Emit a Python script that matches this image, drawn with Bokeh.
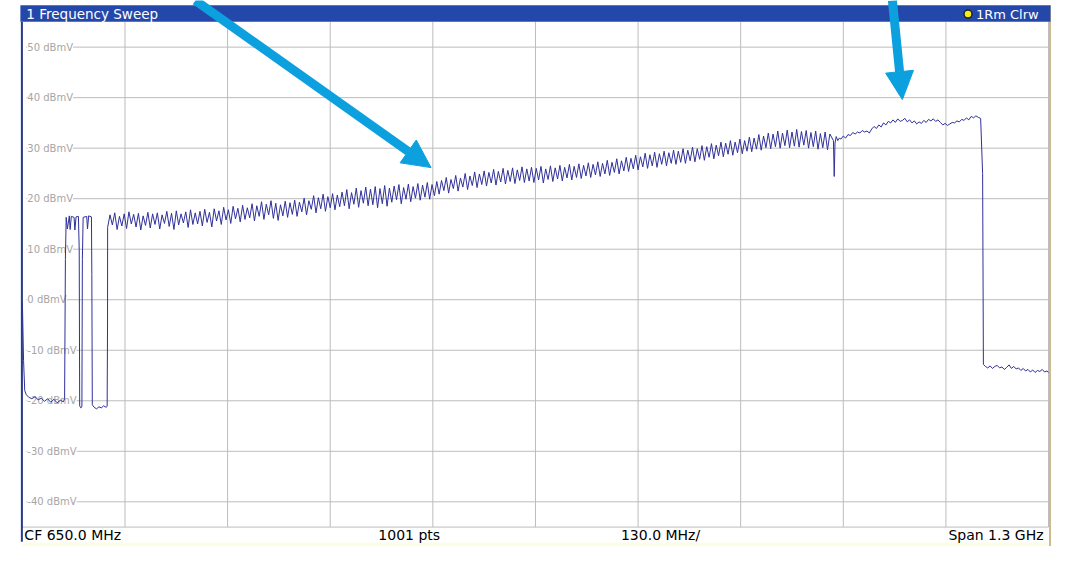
from bokeh.plotting import figure
from bokeh.models import Range1d, Arrow, NormalHead
from bokeh.core.properties import value
from bokeh.embed import file_html
from bokeh.resources import INLINE

# ---------------- data ----------------
x_grid_mhz = [0, 130, 260, 390, 520, 650, 780, 910, 1040, 1170, 1300]
y_ticks = [50, 40, 30, 20, 10, 0, -10, -20, -30, -40]
y_tick_labels = ["50 dBmV", "40 dBmV", "30 dBmV", "20 dBmV", "10 dBmV", "0 dBmV",
                 "-10 dBmV", "-20 dBmV", "-30 dBmV", "-40 dBmV"]

# 0 - 108 MHz: noise floor, low VHF channels, FM gap
low_freq = [0, 1.5, 3, 5, 8, 12, 16, 20, 24, 28, 32, 36, 40, 44, 48, 52, 53.5,
            54.5, 55.5, 57, 59.5, 60.5, 62, 65.5, 66.5, 68, 71, 72, 72.6, 74, 75.4,
            76, 77, 81.5, 82.5, 84, 87.5, 88, 88.6, 91, 94, 97, 100, 103, 106, 107.4, 107.9]
low_level = [-0.5, -12.0, -18.0, -18.8, -19.3, -19.6, -19.2, -19.8, -19.5, -20.1, -19.6, -20.3, -19.7, -20.4, -19.9, -20.2, -19.6,
             8.0, 16.3, 14.0, 16.6, 13.9, 16.5, 16.3, 13.8, 16.4, 16.5, 10.0, -21.0, -21.4, -21.2,
             8.0, 16.3, 16.5, 14.0, 16.6, 16.4, 5.0, -20.8, -21.3, -21.6, -21.2, -21.4, -21.0, -21.3, -21.1, -5.0]

# 108 - 1026 MHz: 6 MHz channels, channel-edge (trough) and channel-centre (peak) levels
qam_first_mhz = 108
qam_step_mhz = 6
qam_peak = [
    16.8, 17.2, 16.5, 17.0, 17.4, 16.9, 17.1, 16.6, 17.3, 17.0,
    17.2, 16.8, 17.5, 17.1, 17.6, 17.0, 17.4, 17.8, 17.2, 17.5,
    17.9, 17.3, 18.0, 17.6, 18.3, 17.8, 18.5, 18.1, 18.7, 18.2,
    19.0, 18.6, 19.4, 18.9, 19.6, 19.1, 18.8, 19.5, 19.2, 19.7,
    19.3, 20.1, 19.6, 20.6, 20.2, 20.9, 20.4, 21.0, 20.7, 21.3,
    21.8, 21.2, 22.1, 21.6, 22.3, 21.9, 22.4, 22.0, 22.6, 22.1,
    22.5, 22.8, 22.2, 22.9, 22.4, 23.0, 22.7, 23.2, 22.8, 23.4,
    23.6, 24.2, 23.8, 24.6, 24.1, 25.0, 24.5, 25.3, 24.9, 25.5,
    25.2, 25.8, 25.4, 26.0, 25.6, 26.1, 25.7, 26.3, 25.9, 26.2,
    26.0, 26.4, 25.9, 26.5, 26.1, 26.6, 26.2, 26.8, 26.4, 26.9,
    26.6, 27.1, 26.8, 27.3, 27.0, 27.6, 27.2, 27.9, 27.5, 28.2,
    28.0, 28.6, 28.3, 29.0, 28.7, 29.2, 28.9, 29.4, 29.1, 29.6,
    29.4, 29.9, 29.6, 30.2, 29.9, 30.5, 30.3, 30.9, 30.6, 31.2,
    31.0, 31.5, 31.2, 31.8, 31.5, 32.2, 32.0, 32.7, 32.4, 33.0,
    32.8, 33.4, 33.0, 33.6, 33.2, 33.7, 33.3, 33.5, 33.1, 33.4,
    32.9, 33.2, 32.8]
qam_trough = [
    14.3, 14.8, 13.9, 14.6, 14.1, 15.0, 14.4, 13.8, 14.7, 14.2,
    14.9, 14.0, 15.1, 14.5, 13.9, 14.8, 15.2, 14.3, 14.9, 15.0,
    14.6, 15.3, 14.4, 15.6, 14.9, 15.8, 15.1, 16.0, 15.4, 15.9,
    16.2, 15.6, 16.5, 15.9, 16.8, 16.1, 15.7, 16.6, 16.3, 16.9,
    16.5, 17.4, 16.8, 17.9, 17.2, 18.0, 17.5, 18.2, 17.8, 18.4,
    18.6, 18.0, 18.9, 18.3, 19.1, 18.6, 18.8, 18.2, 19.0, 18.5,
    19.3, 19.8, 19.0, 19.9, 19.4, 20.1, 19.7, 20.3, 19.9, 20.6,
    20.9, 21.6, 21.1, 22.0, 21.5, 22.3, 21.8, 22.6, 22.2, 22.8,
    22.5, 23.1, 22.7, 23.3, 22.9, 23.4, 23.0, 23.6, 23.2, 23.5,
    23.2, 23.7, 23.1, 23.8, 23.4, 23.9, 23.5, 24.1, 23.7, 24.2,
    24.0, 24.5, 24.2, 24.7, 24.4, 24.9, 24.6, 25.2, 24.9, 25.5,
    25.4, 25.9, 25.7, 26.3, 26.0, 26.5, 26.2, 26.8, 26.5, 27.0,
    26.8, 27.2, 27.0, 27.5, 27.3, 27.8, 27.6, 28.2, 27.9, 28.5,
    28.3, 28.8, 28.6, 29.1, 28.9, 29.4, 29.3, 29.8, 29.6, 30.1,
    29.9, 30.3, 30.0, 30.5, 30.1, 30.4, 30.2, 30.6, 30.0, 30.3,
    29.8, 30.1, 29.7]

# 1027 - 1217 MHz: dip and wideband block
ofdm_freq = [1027.5, 1028.5, 1029.5, 1031, 1033, 1035, 1037,
             1040, 1043, 1046, 1049, 1052, 1055, 1058, 1061, 1064, 1067,
             1070, 1073, 1076, 1079, 1082, 1085, 1088, 1091, 1094, 1097,
             1100, 1103, 1106, 1109, 1112, 1115, 1118, 1121, 1124, 1127,
             1130, 1133, 1136, 1139, 1142, 1145, 1148, 1151, 1154, 1157,
             1160, 1163, 1166, 1169, 1172, 1175, 1178, 1181, 1184, 1187,
             1190, 1193, 1196, 1199, 1202, 1205, 1208, 1211, 1214, 1216.5]
ofdm_level = [31.5, 24.4, 31.0, 32.3, 31.5, 32.0, 31.8,
              32.4, 32.0, 32.7, 32.5, 33.1, 32.8, 33.2, 33.0, 33.5, 33.2,
              33.4, 33.0, 33.8, 34.3, 33.9, 34.6, 34.2, 35.0, 34.6, 35.3,
              35.0, 35.6, 35.1, 35.8, 35.3, 35.5, 35.9, 35.2, 35.6, 35.0,
              35.4, 34.8, 35.2, 34.9, 35.5, 35.1, 35.7, 35.4, 35.8, 35.3,
              35.6, 35.1, 34.6, 34.9, 34.5, 34.8, 35.1, 35.0, 35.4, 35.2,
              35.7, 35.5, 36.0, 35.6, 36.3, 36.0, 36.4, 36.1, 35.9, 25.0]

# 1217 - 1300 MHz: noise above the band edge
tail_freq = [1217.5, 1220, 1223, 1226, 1229, 1232, 1235, 1238, 1241, 1244, 1247, 1250,
             1253, 1256, 1259, 1262, 1265, 1268, 1271, 1274, 1277, 1280, 1283, 1286,
             1289, 1292, 1295, 1298, 1300]
tail_level = [-12.8, -13.2, -13.5, -13.1, -13.6, -13.2, -13.0, -13.5, -13.3, -13.8, -13.4, -12.9,
              -13.6, -13.2, -13.7, -13.5, -14.0, -13.6, -14.1, -13.8, -14.3, -13.9, -14.4, -14.0,
              -14.2, -13.8, -14.3, -14.1, -14.4]

title_text = "1 Frequency Sweep"
trace_text = "1Rm Clrw"
footer_texts = ["CF 650.0 MHz", "1001 pts", "130.0 MHz/"]
footer_right = "Span 1.3 GHz"

# ---------------- assemble trace ----------------
trace_f = list(low_freq)
trace_l = list(low_level)
for i, (pk, tr) in enumerate(zip(qam_peak, qam_trough)):
    f0 = qam_first_mhz + qam_step_mhz * i
    trace_f += [f0, f0 + qam_step_mhz / 2]
    trace_l += [tr, pk]
trace_f += ofdm_freq + tail_freq
trace_l += ofdm_level + tail_level

# ---------------- layout helpers (reference pixel -> data) ----------------
W, H = 1052, 546
MHZ_PER_PX = 1300 / 1032
DB_PER_PX = 10 / 52


def fx(px):
    return (px - 22) * MHZ_PER_PX


def fy(py):
    return 55 - (py - 22) * DB_PER_PX


FONT = value("DejaVu Sans")
GRID = "#bcbcbc"
ARROW = "#0ca0de"

p = figure(width=W, height=H, x_range=Range1d(fx(0), fx(1058)),
           y_range=Range1d(fy(562), fy(0)), x_axis_type=None, y_axis_type=None,
           toolbar_location=None, output_backend="svg", min_border=0,
           outline_line_color=None, background_fill_color="white",
           border_fill_color="white")

# grid
p.segment(x0=x_grid_mhz, y0=-45, x1=x_grid_mhz, y1=55, line_color=GRID, line_width=1)
p.segment(x0=fx(26), y0=y_ticks, x1=1300, y1=y_ticks, line_color=GRID, line_width=1)
p.segment(x0=0, y0=-45, x1=1300, y1=-45, line_color=GRID, line_width=1)

# in-plot level labels
p.text(x=fx(27), y=y_ticks, text=y_tick_labels, text_font=FONT, text_font_size="10px",
       text_color="#a6a6a6", text_align="left", text_baseline="middle",
       background_fill_color="white")

# trace
p.line(trace_f, trace_l, line_color="#30309a", line_width=1)

# footer strip
p.quad(left=fx(22), right=fx(1054), bottom=fy(562), top=fy(558), fill_color="#fdfde6",
       line_color=None)

# frame borders
p.segment(x0=fx(21.5), y0=fy(22), x1=fx(21.5), y1=fy(557), line_color="#2a3a8e", line_width=2)
p.segment(x0=fx(1055.5), y0=fy(5), x1=fx(1055.5), y1=fy(562), line_color="#cdbb90", line_width=2)

# title bar
p.quad(left=fx(20), right=fx(1056), bottom=fy(22), top=fy(5), fill_color="#2447aa",
       line_color=None)
p.text(x=fx(26), y=fy(14), text=[title_text], text_font=FONT, text_font_size="13.5px",
       text_color="white", text_align="left", text_baseline="middle")
p.text(x=fx(981), y=fy(14), text=[trace_text], text_font=FONT, text_font_size="13px",
       text_color="white", text_align="left", text_baseline="middle")
p.scatter(x=[fx(973)], y=[fy(14)], size=8, fill_color="#f4ee1c", line_color="#222222",
          line_width=1.5)

# footer texts
p.text(x=[fx(24), fx(380), fx(624)], y=fy(550), text=footer_texts, text_font=FONT,
       text_font_size="14px", text_color="black", text_align="left",
       text_baseline="middle")
p.text(x=fx(1049), y=fy(550), text=[footer_right], text_font=FONT, text_font_size="14px",
       text_color="black", text_align="right", text_baseline="middle")

# callout arrows
arrow_specs = [((196, 0), (433, 172)), ((897, 0), (907, 102))]
for (sx, sy), (ex, ey) in arrow_specs:
    p.add_layout(Arrow(end=NormalHead(size=28, fill_color=ARROW, line_color=ARROW),
                       x_start=fx(sx), y_start=fy(sy), x_end=fx(ex), y_end=fy(ey),
                       line_color=ARROW, line_width=9))

open("out.html", "w").write(file_html(p, INLINE))
